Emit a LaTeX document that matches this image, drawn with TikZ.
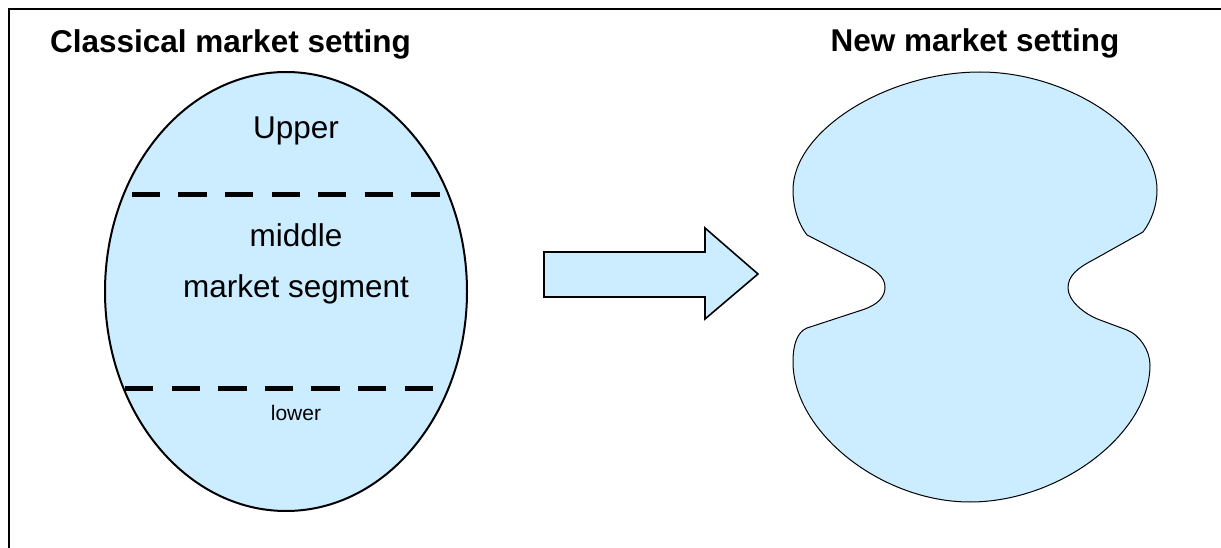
\documentclass[tikz,border=0pt]{standalone}
\usepackage{fontspec}
\setmainfont{Liberation Sans}
\usetikzlibrary{shapes.geometric}
\definecolor{paleblue}{RGB}{204,236,255}
\tikzset{
  frameline/.style={line width=2pt, line cap=rect},
  title/.style={anchor=base, inner sep=0pt, font=\bfseries\fontsize{31.5}{36}\selectfont},
  label/.style={anchor=base, inner sep=0pt, font=\fontsize{31.5}{36}\selectfont},
  smalllabel/.style={anchor=base, inner sep=0pt, font=\fontsize{21}{25}\selectfont},
  segline/.style={line width=5pt, dash pattern=on 28.3pt off 18.3pt},
  market/.style={draw=black, fill=paleblue},
}
\begin{document}
\begin{tikzpicture}[x=1pt,y=-1pt]
\useasboundingbox (0,0) rectangle (1221,548);

% open frame: left and top edges
\draw[frameline] (8.5,548) -- (8.5,9) -- (1221,9);

% headings
\node[title] (classic) at (230.5,53) {Classical market setting};
\node[title] (new) at (975,52) {New market setting};

% classical market: one oval split into three segments
\node[market, ellipse, line width=2pt, minimum width=362pt, minimum height=439pt, inner sep=0pt] (oval) at (286,291.5) {};
\coordinate (d1a) at (131.7,195);
\coordinate (d1b) at (440,195);
\coordinate (d2a) at (125,388);
\coordinate (d2b) at (433,388);
\draw[segline] (d1a) -- (d1b);
\draw[segline] (d2a) -- (d2b);
\node[label] (upper) at (296,139) {Upper};
\node[label] (middle) at (296,247) {middle};
\node[label] (segment) at (296,298) {market segment};
\node[smalllabel] (lower) at (296,420) {lower};

% block arrow
\draw[market, line width=1.6pt, line join=miter]
  (544,252) -- (705,252) -- (705,228) -- (758,274) -- (705,319) -- (705,297) -- (544,297) -- cycle;

% new market: two domes pinched together at the waist
\draw[market, line width=1pt, line join=round]
  (807,235)
  .. controls (797,222) and (793,205) .. (793,190)
  .. controls (793,131) and (886.5,72) .. (980,72)
  .. controls (1068.5,72) and (1157,131) .. (1157,190)
  .. controls (1157,205) and (1152,220) .. (1143,232)
  -- (1093,260)
  .. controls (1077,268.3) and (1068,276) .. (1068,288)
  .. controls (1068,300) and (1083.1,313.8) .. (1100,320)
  -- (1127,330)
  .. controls (1139,334.5) and (1150,350) .. (1150,365)
  .. controls (1150,433.5) and (1060,502) .. (970,502)
  .. controls (881.5,502) and (793,432) .. (793,362)
  .. controls (793,345) and (797,332) .. (807,328)
  -- (862,310)
  .. controls (878,304.8) and (885,297) .. (885,287)
  .. controls (885,277) and (875.6,269.5) .. (860,262)
  -- cycle;
\end{tikzpicture}
\end{document}
